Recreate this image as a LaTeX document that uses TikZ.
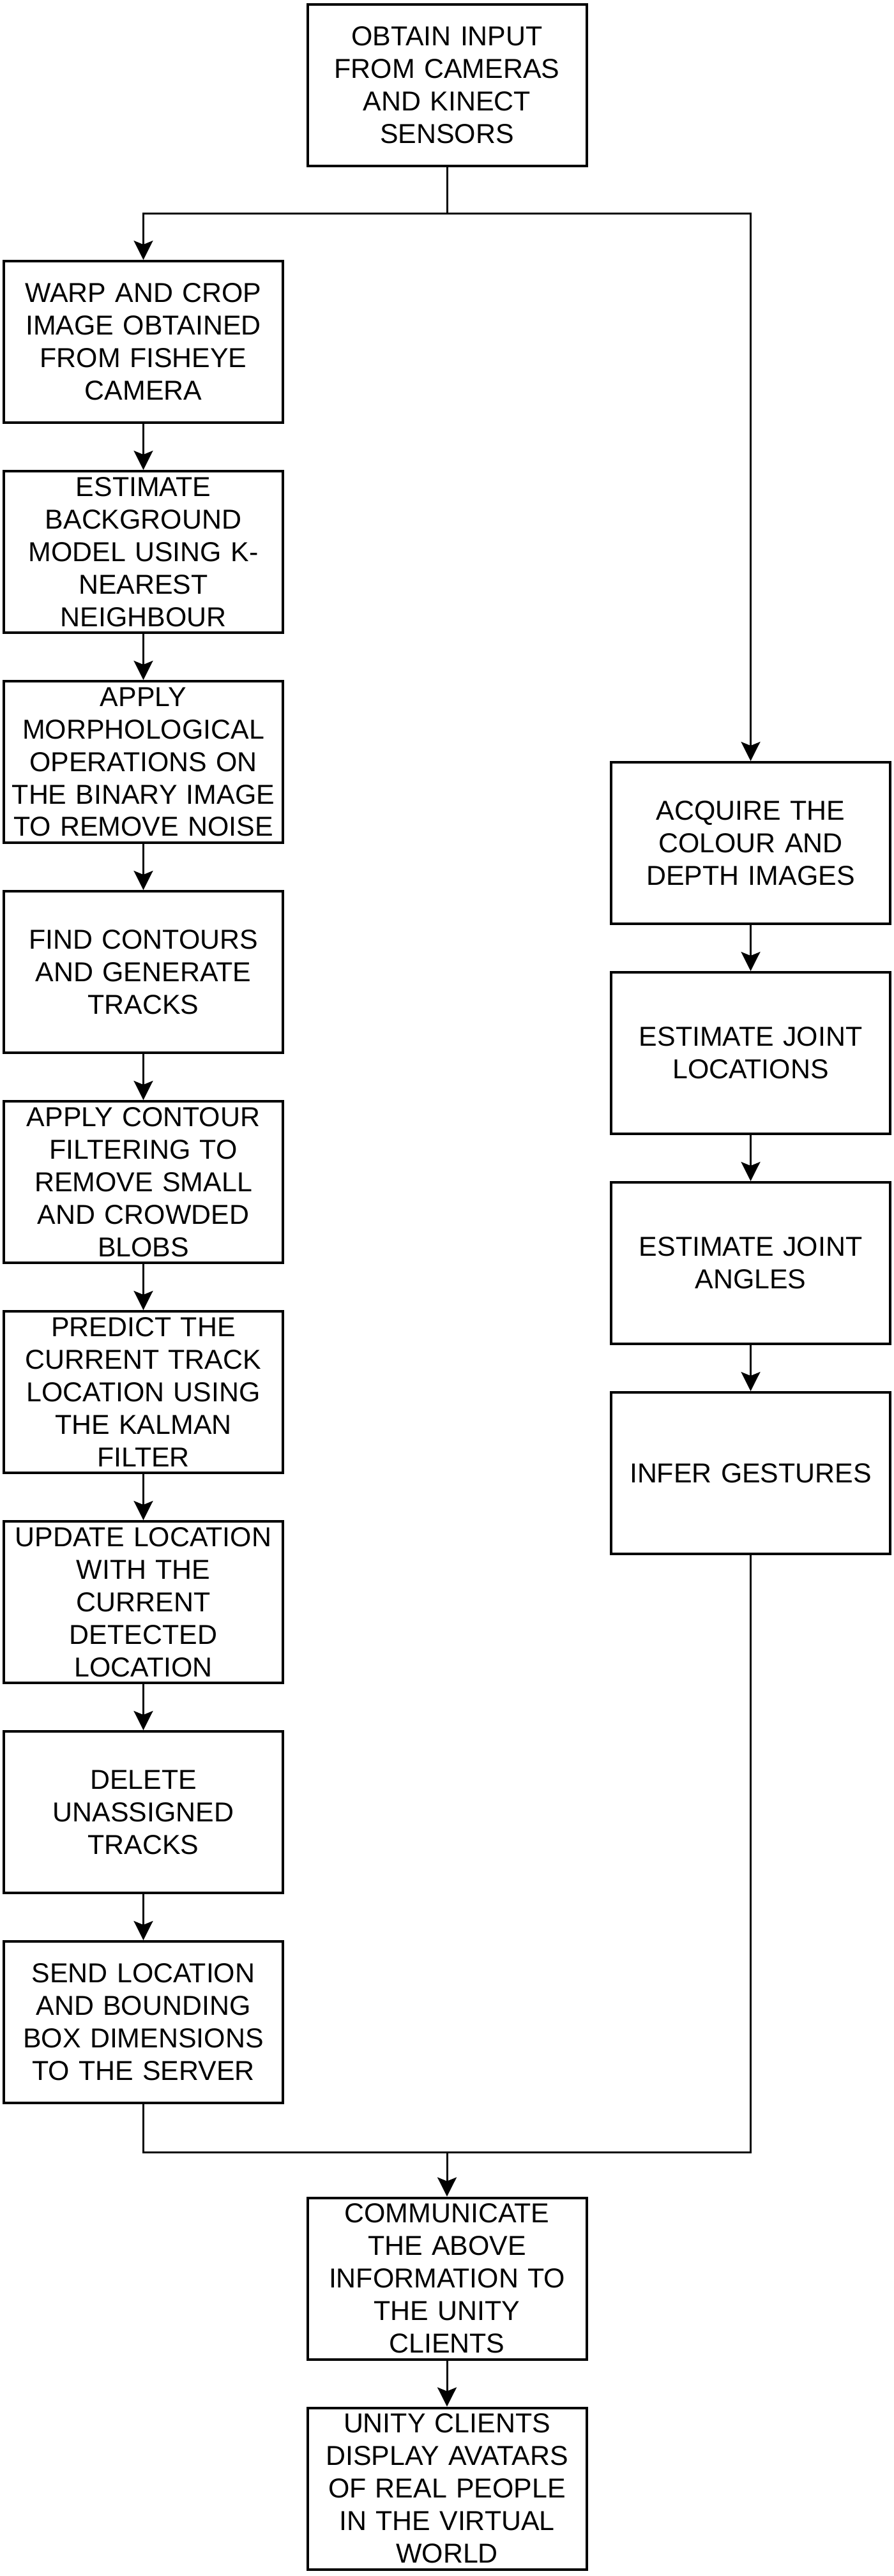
\documentclass[tikz,border=0pt]{standalone}
\usepackage{fontspec}
\setmainfont{Liberation Sans}
\usetikzlibrary{positioning,arrows.meta}

\begin{document}
\begin{tikzpicture}[
  stepbox/.style={rectangle, draw=black, line width=0.04cm, minimum width=4.37cm, minimum height=2.53cm,
    text width=4.3cm, inner xsep=0.03cm, inner ysep=0pt, align=center, font=\fontsize{12.2}{14.5}\selectfont},
  link/.style={draw=black, line width=0.03cm},
  flow/.style={link, -{Stealth[length=0.3cm, width=0.3cm, inset=0.06cm]}},
  node distance=0.72cm
]
\useasboundingbox (0,0) rectangle (14,-40.35);

\node[stepbox] (obtain) at (7,-1.33) {OBTAIN INPUT\\FROM CAMERAS\\AND KINECT\\SENSORS};

% fisheye camera branch
\node[stepbox] (warp) at (2.245,-5.355) {WARP AND CROP\\IMAGE OBTAINED\\FROM FISHEYE\\CAMERA};
\node[stepbox, below=of warp] (bgmodel) {ESTIMATE\\BACKGROUND\\MODEL USING K-\\NEAREST\\NEIGHBOUR};
\node[stepbox, below=of bgmodel] (morph) {APPLY\\MORPHOLOGICAL\\OPERATIONS ON\\THE BINARY IMAGE\\TO REMOVE NOISE};
\node[stepbox, below=of morph] (contours) {FIND CONTOURS\\AND GENERATE\\TRACKS};
\node[stepbox, below=of contours] (filter) {APPLY CONTOUR\\FILTERING TO\\REMOVE SMALL\\AND CROWDED\\BLOBS};
\node[stepbox, below=of filter] (predict) {PREDICT THE\\CURRENT TRACK\\LOCATION USING\\THE KALMAN\\FILTER};
\node[stepbox, below=of predict] (update) {UPDATE LOCATION\\WITH THE\\CURRENT\\DETECTED\\LOCATION};
\node[stepbox, below=of update] (delete) {DELETE\\UNASSIGNED\\TRACKS};
\node[stepbox, below=of delete] (send) {SEND LOCATION\\AND BOUNDING\\BOX DIMENSIONS\\TO THE SERVER};

% kinect branch
\node[stepbox] (acquire) at (11.755,-13.205) {ACQUIRE THE\\COLOUR AND\\DEPTH IMAGES};
\node[stepbox, below=of acquire] (jointloc) {ESTIMATE JOINT\\LOCATIONS};
\node[stepbox, below=of jointloc] (jointang) {ESTIMATE JOINT\\ANGLES};
\node[stepbox, below=of jointang] (gestures) {INFER GESTURES};

% unity side
\node[stepbox] (communicate) at (7,-35.69) {COMMUNICATE\\THE ABOVE\\INFORMATION TO\\THE UNITY\\CLIENTS};
\node[stepbox, below=of communicate] (display) {UNITY CLIENTS\\DISPLAY AVATARS\\OF REAL PEOPLE\\IN THE VIRTUAL\\WORLD};

\coordinate (split) at (7,-3.34);
\coordinate (merge) at (7,-33.71);

\draw[link] (obtain.south) -- (split);
\draw[flow] (split) -| (warp.north);
\draw[flow] (split) -| (acquire.north);

\foreach \from/\to in {warp/bgmodel, bgmodel/morph, morph/contours, contours/filter, filter/predict,
  predict/update, update/delete, delete/send, acquire/jointloc, jointloc/jointang, jointang/gestures,
  communicate/display}
  \draw[flow] (\from) -- (\to);

\draw[link] (send.south) |- (merge) -| (gestures.south);
\draw[flow] (merge) -- (communicate.north);
\end{tikzpicture}
\end{document}
